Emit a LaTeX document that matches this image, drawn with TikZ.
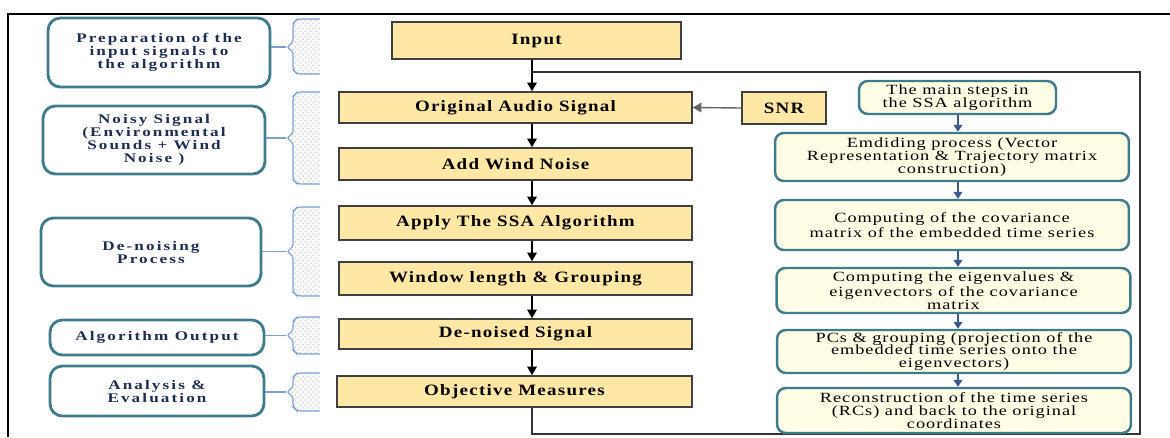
\documentclass[tikz,border=0pt]{standalone}
\usepackage{fontspec}
\setmainfont{Liberation Serif}
\newfontfamily\phaseFont[FakeStretch=1.3,LetterSpace=16]{Liberation Serif}
\newfontfamily\stageFont[FakeStretch=1.2,LetterSpace=8]{Liberation Serif}
\newfontfamily\stepFont[FakeStretch=1.3,LetterSpace=7]{Liberation Serif}
\usetikzlibrary{positioning}
\usetikzlibrary{calc}
\usetikzlibrary{arrows.meta}
\usetikzlibrary{patterns}

\definecolor{boxYellow}{RGB}{255,231,166}
\definecolor{tealLine}{RGB}{62,124,140}
\definecolor{navyText}{RGB}{30,45,80}
\definecolor{braceBlue}{RGB}{120,160,205}
\definecolor{stepFill}{RGB}{255,253,230}
\definecolor{stepArrow}{RGB}{60,90,140}

\newcommand{\sideBrace}[4]{%
  \path[braceShape] (320,#2) -- (297,#2) -- (293,#2+4) -- (293,#3-4) -- (286,#3) -- (293,#3+4) -- (293,#4-4) -- (297,#4) -- (320,#4);
  \coordinate (#1) at (286,#3);}

\begin{document}
\begin{tikzpicture}[x=0.02cm,y=-0.02cm]
		\tikzstyle{phase} = [rectangle, rounded corners=7pt, draw=tealLine, line width=1.6pt, fill=white, align=center, inner sep=0pt, text=navyText, font=\fontsize{7.5}{7.4}\selectfont\phaseFont\bfseries]
		\tikzstyle{stage} = [rectangle, draw=black!75, line width=0.8pt, fill=boxYellow, minimum width=7.06cm, inner sep=0pt, font=\fontsize{9}{10}\selectfont\stageFont\bfseries]
		\tikzstyle{ssaStep} = [rectangle, rounded corners=5pt, draw=tealLine, line width=1.4pt, fill=stepFill, minimum width=7.08cm, align=center, inner sep=0pt, font=\fontsize{8}{7.3}\selectfont\stepFont]
		\tikzstyle{flow} = [-{Triangle[length=5pt,width=5.5pt]}, line width=0.8pt]
		\tikzstyle{ssaFlow} = [-{Triangle[length=4pt,width=5pt]}, draw=stepArrow, line width=0.8pt]
		\tikzstyle{loopLine} = [draw=black!80, line width=0.6pt]
		\tikzstyle{braceShape} = [draw=braceBlue, line width=0.6pt, rounded corners=2pt, preaction={fill=gray!5}, pattern=crosshatch dots, pattern color=gray!35]
		\tikzstyle{braceLink} = [draw=braceBlue, line width=0.6pt]

		\useasboundingbox (0,0) rectangle (1170,437);
		\draw [line width=1.4pt] (8,437) -- (8,14) -- (1170,14);

		\node (prepPhase) [phase, minimum width=4.44cm, minimum height=1.38cm] at (159,52.5) {Preparation of the\\input signals to\\the algorithm};
		\node (noisyPhase) [phase, minimum width=4.44cm, minimum height=1.36cm] at (154,140) {Noisy Signal\\(Environmental\\Sounds + Wind\\Noise )};
		\node (denoisePhase) [phase, minimum width=4.4cm, minimum height=1.36cm] at (151,252) {De-noising\\Process};
		\node (outputPhase) [phase, minimum width=4.28cm, minimum height=0.7cm] at (157,337.5) {Algorithm Output};
		\node (evalPhase) [phase, minimum width=4.28cm, minimum height=1cm] at (157,391) {Analysis \&\\Evaluation};

		\sideBrace{prepBrace}{19}{47}{74}
		\sideBrace{noisyBrace}{92}{138}{184}
		\sideBrace{denoiseBrace}{207}{251.5}{296}
		\sideBrace{outputBrace}{317}{335.5}{354}
		\sideBrace{evalBrace}{373}{392}{411}

		\draw [braceLink] (prepPhase.east |- prepBrace) -- (prepBrace);
		\draw [braceLink] (noisyPhase.east |- noisyBrace) -- (noisyBrace);
		\draw [braceLink] (denoisePhase.east |- denoiseBrace) -- (denoiseBrace);
		\draw [braceLink] (outputPhase.east |- outputBrace) -- (outputBrace);
		\draw [braceLink] (evalPhase.east |- evalBrace) -- (evalBrace);

		\coordinate (trunk) at (532,0);
		\node (input) [stage, minimum width=5.78cm, minimum height=0.74cm] at (536.5,40.5) {Input};
		\node (originalSignal) [stage, minimum height=0.62cm] at (515.5,107.5) {Original Audio Signal};
		\node (addNoise) [stage, minimum height=0.64cm] at (515.5,164) {Add Wind Noise};
		\node (applySsa) [stage, minimum height=0.68cm] at (515.5,223) {Apply The SSA Algorithm};
		\node (windowGroup) [stage, minimum height=0.66cm] at (515.5,278.5) {Window length \& Grouping};
		\node (denoised) [stage, minimum height=0.6cm] at (515.5,334) {De-noised Signal};
		\node (objective) [stage, minimum width=7.1cm, minimum height=0.62cm] at (514.5,391.5) {Objective Measures};
		\node (snr) [stage, minimum width=1.68cm, minimum height=0.64cm] at (784,108) {SNR};

		\draw [flow] (trunk |- input.south) -- (trunk |- originalSignal.north);
		\draw [flow] (trunk |- originalSignal.south) -- (trunk |- addNoise.north);
		\draw [flow] (trunk |- addNoise.south) -- (trunk |- applySsa.north);
		\draw [flow] (trunk |- applySsa.south) -- (trunk |- windowGroup.north);
		\draw [flow] (trunk |- windowGroup.south) -- (trunk |- denoised.north);
		\draw [flow] (trunk |- denoised.south) -- (trunk |- objective.north);
		\draw [flow, draw=black!60] (snr.west) -- (originalSignal.east);

		\coordinate (splitPoint) at (532,72);
		\coordinate (loopTop) at (1140,72);
		\coordinate (loopBottom) at (1140,434);
		\draw [loopLine] (splitPoint) -- (loopTop) -- (loopBottom) -- (trunk |- loopBottom) -- (trunk |- objective.south);

		\coordinate (ssaAxis) at (958,0);
		\node (ssaTitle) [ssaStep, minimum width=3.94cm, minimum height=0.66cm] at (957.5,97.5) {The main steps in\\the SSA algorithm};
		\node (embedding) [ssaStep, minimum height=0.96cm] at (952,157) {Emdiding process (Vector\\Representation \& Trajectory matrix\\construction)};
		\node (covariance) [ssaStep, minimum height=1cm] at (952,225) {Computing of the covariance\\matrix of the embedded time series};
		\node (eigen) [ssaStep, minimum height=0.9cm] at (953.5,290.5) {Computing the eigenvalues \&\\eigenvectors of the covariance\\matrix};
		\node (pcGroup) [ssaStep, minimum height=0.86cm] at (954,351.5) {PCs \& grouping (projection of the\\embedded time series onto the\\eigenvectors)};
		\node (reconstruct) [ssaStep, minimum height=0.9cm] at (954,410.5) {Reconstruction of the time series\\(RCs) and  back to the original\\coordinates};

		\draw [ssaFlow] (ssaAxis |- ssaTitle.south) -- (ssaAxis |- embedding.north);
		\draw [ssaFlow] (ssaAxis |- embedding.south) -- (ssaAxis |- covariance.north);
		\draw [ssaFlow] (ssaAxis |- covariance.south) -- (ssaAxis |- eigen.north);
		\draw [ssaFlow] (ssaAxis |- eigen.south) -- (ssaAxis |- pcGroup.north);
		\draw [ssaFlow] (ssaAxis |- pcGroup.south) -- (ssaAxis |- reconstruct.north);
	\end{tikzpicture}
\end{document}
